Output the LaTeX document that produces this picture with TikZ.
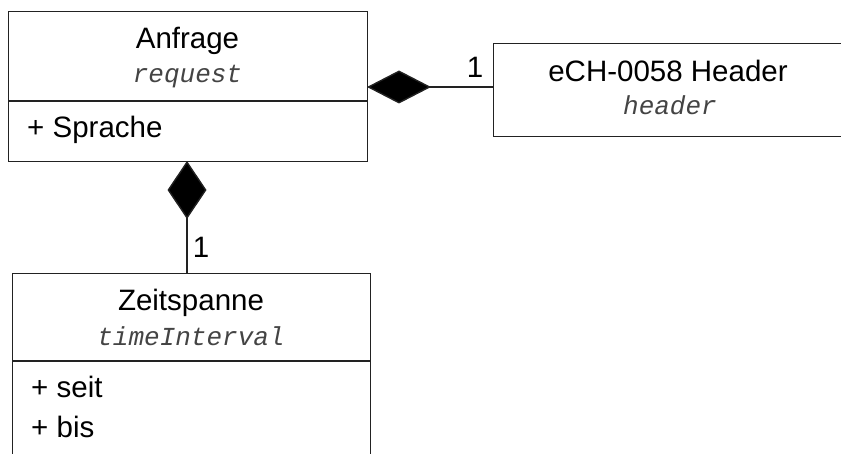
\documentclass[tikz,border=0pt]{standalone}
\usepackage{fontspec}
\setmainfont{Liberation Sans}
\newfontfamily\codefont{Liberation Mono}
\usetikzlibrary{arrows.meta}
\definecolor{linecol}{HTML}{222222}
\definecolor{codecol}{HTML}{444444}
\tikzset{
  classbox/.style={draw=linecol, line width=1.2pt, anchor=north west, inner sep=0pt, fill=white},
  titletext/.style={anchor=base, inner sep=0pt, font=\fontsize{29.5}{34}\selectfont},
  codetext/.style={anchor=base, inner sep=0pt, text=codecol, font=\codefont\itshape\fontsize{26}{30}\selectfont},
  attrtext/.style={anchor=base west, inner sep=0pt, font=\fontsize{29.5}{34}\selectfont},
  multtext/.style={anchor=base, inner sep=0pt, font=\fontsize{29.5}{34}\selectfont},
  seprule/.style={draw=linecol, line width=1.2pt},
  compo/.style={draw=linecol, line width=1.4pt},
}
\begin{document}
\begin{tikzpicture}[x=1pt,y=-1pt]
\useasboundingbox (0,0) rectangle (841,454);
\clip (0,0) rectangle (841,454);
% Anfrage
\node[classbox, minimum width=359pt, minimum height=150pt] (anf) at (8,11) {};
\node[titletext] (anfT) at (187.5,49) {Anfrage};
\node[codetext] (anfC) at (187.5,83) {request};
\coordinate (anfS1) at (8,101);
\coordinate (anfS2) at (367,101);
\draw[seprule] (anfS1) -- (anfS2);
\node[attrtext] (anfA) at (27,138) {+ Sprache};
% Header
\node[classbox, minimum width=380pt, minimum height=93pt] (hdr) at (493,43) {};
\node[titletext] (hdrT) at (668,82) {eCH-0058 Header};
\node[codetext] (hdrC) at (670,115) {header};
% Zeitspanne
\node[classbox, minimum width=358pt, minimum height=220pt] (zeit) at (12,273) {};
\node[titletext] (zeitT) at (191,311) {Zeitspanne};
\node[codetext] (zeitC) at (191,345) {timeInterval};
\coordinate (zeitS1) at (12,361);
\coordinate (zeitS2) at (370,361);
\draw[seprule] (zeitS1) -- (zeitS2);
\node[attrtext] (zeitA1) at (31,398) {+ seit};
\node[attrtext] (zeitA2) at (31,437) {+ bis};
% connectors
\coordinate (hdrIn) at (493,87);
\coordinate (anfIn) at (367,87);
\draw[compo, -{Diamond[length=64pt, width=33pt, fill=black]}] (hdrIn) -- (anfIn);
\node[multtext] (m1) at (475,78) {1};
\coordinate (zeitIn) at (187,273);
\coordinate (anfBot) at (187,161);
\draw[compo, -{Diamond[length=58pt, width=39pt, fill=black]}] (zeitIn) -- (anfBot);
\node[multtext] (m2) at (201,258) {1};
\end{tikzpicture}
\end{document}
